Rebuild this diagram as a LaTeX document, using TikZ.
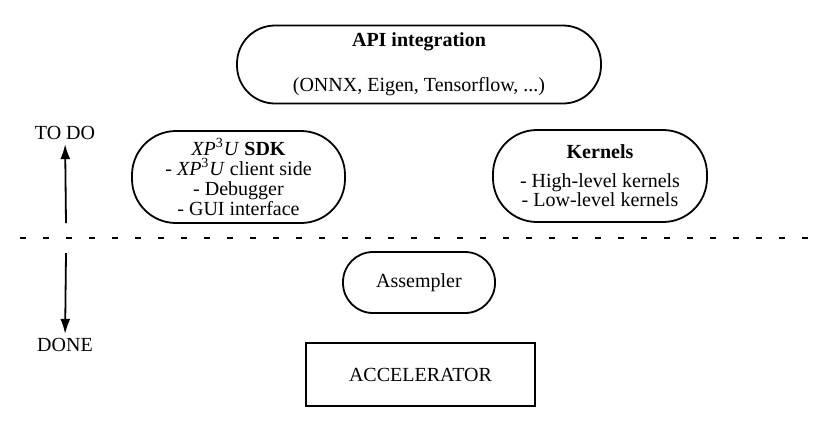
\documentclass[tikz,border=0pt]{standalone}
\usepackage{fontspec}
\setmainfont{Liberation Serif}
\usetikzlibrary{arrows.meta}

\newcommand{\xpu}{\textit{XP}\textsuperscript{3}\textit{U}}

\begin{document}
\begin{tikzpicture}[
        x=0.5pt, y=-0.5pt,
        every node/.style={font=\fontsize{10}{9.5}\selectfont},
        pill/.style={rectangle, draw, line width=0.9pt, rounded corners=#1, align=center},
        pill/.default=22pt,
        block/.style={rectangle, draw, line width=0.9pt, align=center},
        tag/.style={inner sep=2pt},
        arrow/.style={line width=0.9pt, -{Latex[length=7.5pt,width=5pt]}}
        ]
        \useasboundingbox (0,0) rectangle (828,435);

        \node[pill=19pt, minimum width=182pt, minimum height=39pt] (api) at (419,64.5) {\textbf{API integration}\\[13pt](ONNX, Eigen, Tensorflow, ...)};
        \node[pill, minimum width=106.5pt, minimum height=46pt, font=\fontsize{10}{10}\selectfont] (sdk) at (238.5,177) {\xpu{} \textbf{SDK}\\- \xpu{} client side\\- Debugger\\- GUI interface};
        \node[pill, minimum width=107pt, minimum height=46pt] (kernels) at (600,176) {\textbf{Kernels}\\[5pt]- High-level kernels\\- Low-level kernels};
        \node[pill=15pt, minimum width=76pt, minimum height=30.5pt] (asm) at (419,282.5) {Assempler};
        \node[block, minimum width=114.5pt, minimum height=31.5pt] (acc) at (420.5,374.5) {ACCELERATOR};

        % todo / done split
        \node[tag] (todo) at (65,133) {TO DO};
        \node[tag] (done) at (65,345) {DONE};
        \coordinate (split) at (66,238);
        \coordinate (lineL) at (20,238);
        \coordinate (lineR) at (808,238);

        \draw[dash pattern=on 3pt off 8.5pt, line width=0.9pt] (lineL) -- (lineR);
        \draw[arrow] ([yshift=7.5pt]split) -- (todo);
        \draw[arrow] ([yshift=-7.5pt]split) -- (done);
    \end{tikzpicture}
\end{document}
